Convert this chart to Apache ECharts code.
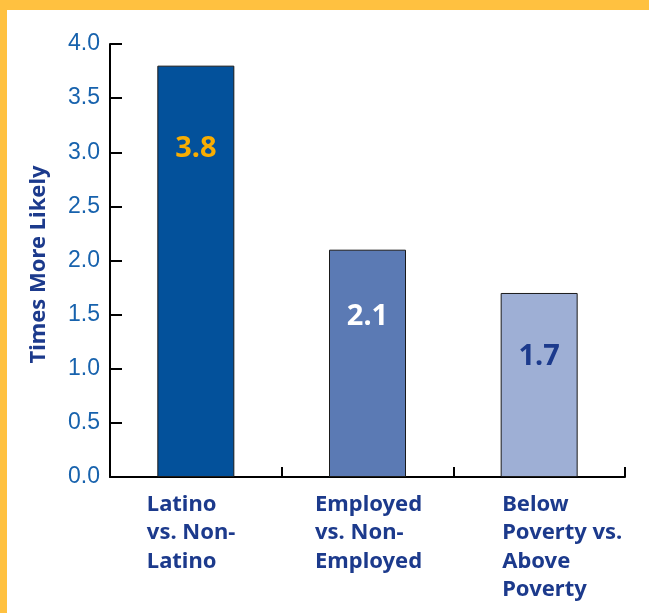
<!DOCTYPE html>
<html>
<head>
<meta charset="utf-8">
<script src="https://cdn.jsdelivr.net/npm/echarts@6/dist/echarts.min.js"></script>
<style>
  html, body { margin: 0; padding: 0; background: #ffffff; }
  #chart { width: 649px; height: 613px; }
</style>
</head>
<body>
<div id="chart"></div>
<script>
// Categories and the ratio ("times more likely") for each comparison
const categories = [
  'Latino\nvs. Non-\nLatino',
  'Employed\nvs. Non-\nEmployed',
  'Below\nPoverty vs.\nAbove\nPoverty'
];
const values = [3.8, 2.1, 1.7];
const yTickLabels = ['0.0', '0.5', '1.0', '1.5', '2.0', '2.5', '3.0', '3.5', '4.0'];

// Styling per bar
const barColors = ['#03519b', '#5b7ab4', '#9eafd5'];
const valueLabelColors = ['#f9ad00', '#ffffff', '#1c3a8c'];
const valueLabelOffsets = [83, 67, 64];
const catBlockWidths = [98, 105, 74];

const navy = '#1c3a8c';
const tickBlue = '#1762ad';
const bandYellow = '#ffc140';

const chart = echarts.init(document.getElementById('chart'), null, { renderer: 'canvas' });

const richStyles = {};
catBlockWidths.forEach((w, i) => {
  richStyles['c' + i] = {
    width: w,
    align: 'left',
    fontFamily: '"Noto Sans", sans-serif',
    fontWeight: 'bold',
    fontSize: 22,
    lineHeight: 28.5,
    color: navy
  };
});

const option = {
  animation: false,
  backgroundColor: '#ffffff',
  graphic: [
    { type: 'rect', left: 0, top: 0, shape: { width: 649, height: 10 }, style: { fill: bandYellow }, silent: true },
    { type: 'rect', left: 0, top: 0, shape: { width: 7, height: 613 }, style: { fill: bandYellow }, silent: true }
  ],
  grid: { left: 110, right: 24, top: 44, bottom: 136, containLabel: false },
  xAxis: {
    type: 'category',
    data: categories,
    boundaryGap: true,
    axisLine: { show: true, lineStyle: { color: '#000000', width: 2 } },
    axisTick: { show: true, inside: true, length: 10, lineStyle: { color: '#000000', width: 2 } },
    axisLabel: {
      interval: 0,
      margin: 13,
      align: 'center',
      formatter: function (val, idx) {
        return val.split('\n').map(l => '{c' + idx + '|' + l + '}').join('\n');
      },
      rich: richStyles
    },
    splitLine: { show: false }
  },
  yAxis: {
    type: 'value',
    min: 0,
    max: 4,
    interval: 0.5,
    name: 'Times More Likely',
    nameLocation: 'middle',
    nameGap: 60,
    nameRotate: 90,
    nameTextStyle: {
      fontFamily: '"Noto Sans", sans-serif',
      fontWeight: 'bold',
      fontSize: 22,
      color: navy,
      padding: [0, 0, 0, -8]
    },
    axisLine: { show: true, lineStyle: { color: '#000000', width: 2 } },
    axisTick: { show: true, inside: true, length: 12, lineStyle: { color: '#000000', width: 2 } },
    axisLabel: {
      margin: 10,
      fontFamily: '"Liberation Sans", Arial, sans-serif',
      fontSize: 23,
      color: tickBlue,
      formatter: function (v) { return yTickLabels[Math.round(v / 0.5)]; }
    },
    splitLine: { show: false }
  },
  series: [{
    type: 'bar',
    barWidth: 77,
    data: values.map((v, i) => ({
      value: v,
      itemStyle: { color: barColors[i], borderColor: '#1a1a1a', borderWidth: 1 },
      label: {
        show: true,
        position: ['50%', valueLabelOffsets[i]],
        align: 'center',
        verticalAlign: 'middle',
        formatter: function (p) { return p.value.toFixed(1); },
        fontFamily: '"Noto Sans", sans-serif',
        fontWeight: 'bold',
        fontSize: 29,
        color: valueLabelColors[i]
      }
    }))
  }]
};

chart.setOption(option);
</script>
</body>
</html>
